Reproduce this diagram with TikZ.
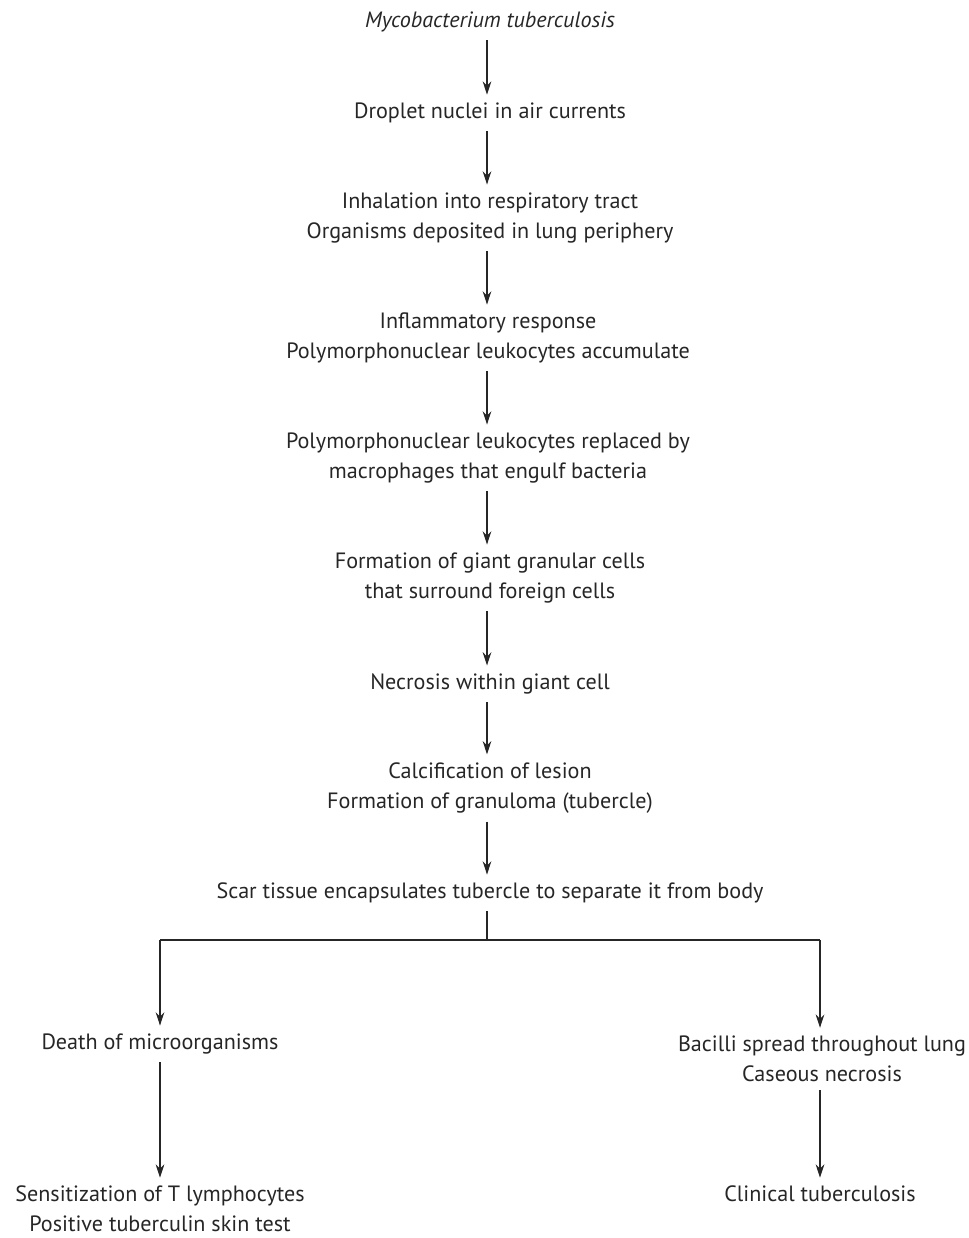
\documentclass[tikz,border=0pt]{standalone}
\usepackage{fontspec}
\setmainfont{PT Sans}
\usetikzlibrary{arrows.meta}
\definecolor{ink}{HTML}{262626}
\begin{document}
\begin{tikzpicture}[x=0.75pt,y=-0.75pt,
  stage/.style={font=\fontsize{16.6}{22.5}\selectfont, text=ink, align=center, inner xsep=2pt, inner ysep=6pt},
  flow/.style={draw=ink, line width=0.9pt, -{Stealth[length=10pt,width=6.5pt]}},
  link/.style={draw=ink, line width=0.9pt}]
\useasboundingbox (0,0) rectangle (969,1238);

% main chain
\node[stage] (mtb)  at (490,22)  {\itshape Mycobacterium tuberculosis};
\node[stage] (drop) at (490,113) {Droplet nuclei in air currents};
\node[stage] (inh)  at (490,218) {Inhalation into respiratory tract\\Organisms deposited in lung periphery};
\node[stage] (infl) at (488,338) {Inflammatory response\\Polymorphonuclear leukocytes accumulate};
\node[stage] (pmn)  at (488,458) {Polymorphonuclear leukocytes replaced by\\macrophages that engulf bacteria};
\node[stage] (giant) at (490,578) {Formation of giant granular cells\\that surround foreign cells};
\node[stage] (necr) at (490,684) {Necrosis within giant cell};
\node[stage] (calc) at (490,788) {Calcification of lesion\\Formation of granuloma (tubercle)};
\node[stage] (scar) at (490,893) {Scar tissue encapsulates tubercle to separate it from body};

% branches
\node[stage] (death) at (160,1044) {Death of microorganisms};
\node[stage] (sens)  at (160,1209) {Sensitization of T lymphocytes\\Positive tuberculin skin test};
\node[stage] (bac)   at (822,1059) {Bacilli spread throughout lung\\Caseous necrosis};
\node[stage] (clin)  at (820,1194) {Clinical tuberculosis};

\coordinate (fork)  at (487,940);
\coordinate (lfork) at (160,940);
\coordinate (rfork) at (820,940);

\foreach \a/\b in {mtb/drop, drop/inh, inh/infl, infl/pmn, pmn/giant, giant/necr, necr/calc, calc/scar}
  \draw[flow] (\a.south -| 487,0) -- (\b.north -| 487,0);

\draw[link] (scar.south -| fork) -- (fork);
\draw[link] (lfork) -- (rfork);
\draw[flow] (lfork) -- (death.north -| lfork);
\draw[flow] (rfork) -- (bac.north -| rfork);
\draw[flow] (death.south -| lfork) -- (sens.north -| lfork);
\draw[flow] (bac.south -| rfork) -- (clin.north -| rfork);
\end{tikzpicture}
\end{document}
